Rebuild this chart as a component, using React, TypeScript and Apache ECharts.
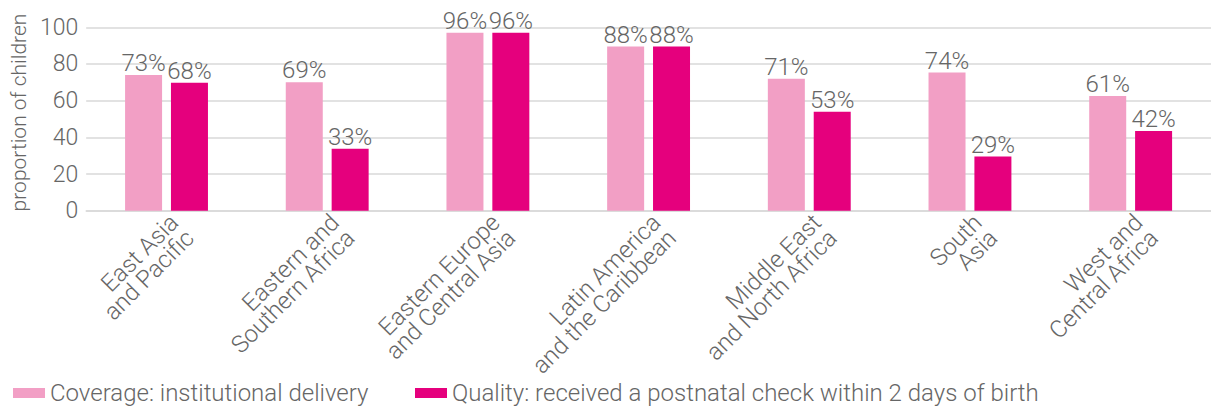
import React, { useEffect, useRef } from "react";
import * as echarts from "echarts";

const categories = [
  "East Asia\nand Pacific",
  "Eastern and\nSouthern Africa",
  "Eastern Europe\nand Central Asia",
  "Latin America\nand the Caribbean",
  "Middle East\nand North Africa",
  "South\nAsia",
  "West and\nCentral Africa",
];
const coverageValues = [74, 70, 97, 89.5, 72, 75.3, 62.6];
const qualityValues = [69.7, 33.8, 97, 89.5, 54, 29.5, 43.5];
const coverageLabels = ["73%", "69%", "96%", "88%", "71%", "74%", "61%"];
const qualityLabels = ["68%", "33%", "96%", "88%", "53%", "29%", "42%"];
const yTicks = { min: 0, max: 100, interval: 20 };
const seriesNames = [
  "Coverage: institutional delivery",
  "Quality: received a postnatal check within 2 days of birth",
];

const FONT = "Roboto";
const GRAY = "#666666";
const GRID = "#d9d9d9";

export default function App() {
  const ref = useRef<HTMLDivElement>(null);
  useEffect(() => {
    if (!ref.current) return;
    const chart = echarts.init(ref.current, null, { renderer: "svg" });
    const labelStyle = {
      show: true,
      position: "top",
      distance: 0,
      color: GRAY,
      fontSize: 24,
      fontFamily: FONT,
      fontWeight: 300,
    };
    const legendText = { color: GRAY, fontSize: 24, fontFamily: FONT, fontWeight: 300 };
    chart.setOption({
      animation: false,
      textStyle: { fontFamily: FONT },
      grid: { left: 80, right: -21, top: 27.3, bottom: 195.3, containLabel: false },
      legend: [
        {
          left: 8,
          top: 376,
          itemWidth: 32,
          itemHeight: 10,
          icon: "rect",
          textStyle: legendText,
          data: [seriesNames[0]],
        },
        {
          left: 410,
          top: 376,
          itemWidth: 32,
          itemHeight: 10,
          icon: "rect",
          textStyle: legendText,
          data: [seriesNames[1]],
        },
      ],
      xAxis: {
        type: "category",
        data: categories,
        axisLine: { show: true, lineStyle: { color: GRID, width: 1.5 } },
        axisTick: { show: false },
        axisLabel: {
          interval: 0,
          rotate: 45,
          margin: 0,
          align: "right",
          verticalAlign: "top",
          color: GRAY,
          fontSize: 24,
          fontFamily: FONT,
          fontWeight: 300,
          lineHeight: 22,
        },
      },
      yAxis: {
        type: "value",
        min: yTicks.min,
        max: yTicks.max,
        interval: yTicks.interval,
        name: "proportion of children",
        nameLocation: "middle",
        nameGap: 47,
        nameTextStyle: {
          color: GRAY,
          fontSize: 21,
          fontFamily: FONT,
          fontWeight: 300,
          padding: [0, 0, 0, 13],
        },
        axisLine: { show: false },
        axisTick: { show: false },
        axisLabel: { color: GRAY, fontSize: 23, margin: 8, fontFamily: FONT, fontWeight: 300 },
        splitLine: { show: true, lineStyle: { color: GRID, width: 1.5 } },
      },
      series: [
        {
          name: seriesNames[0],
          type: "bar",
          data: coverageValues,
          barWidth: 37,
          barGap: "24%",
          itemStyle: { color: "#f29fc5" },
          label: { ...labelStyle, formatter: (p: any) => coverageLabels[p.dataIndex] },
        },
        {
          name: seriesNames[1],
          type: "bar",
          data: qualityValues,
          barWidth: 37,
          itemStyle: { color: "#e5007d" },
          label: { ...labelStyle, formatter: (p: any) => qualityLabels[p.dataIndex] },
        },
      ],
    });
    return () => chart.dispose();
  }, []);
  return (
    <div
      ref={ref}
      style={{ position: "absolute", left: 0, top: 0, width: 1211, height: 406, background: "#fff" }}
    />
  );
}
